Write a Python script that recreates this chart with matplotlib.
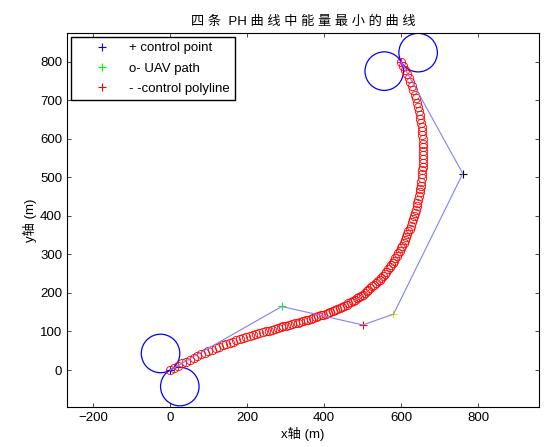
import matplotlib
matplotlib.use('Agg')
import matplotlib.pyplot as plt
from matplotlib.patches import Circle

plt.rcParams['font.family'] = ['Liberation Sans', 'Noto Sans CJK SC']

# control points
ctrl_x = [0, 290, 500, 580, 760, 600]
ctrl_y = [0, 165, 117, 145, 510, 800]
ctrl_c = ['#0000ff', '#00ff00', '#ff0000', '#e8e800', 'k', '#ff00ff']

# turning circles at start and end
circ_x = [-25, 25, 556, 644]
circ_y = [43, -43, 776, 824]
circ_r = 50

# UAV path points (red circles)
path_x = [0, 10, 21, 31, 41, 51, 61, 70, 80, 90, 99, 109, 118, 127, 137, 146, 155, 164, 172, 181,
          190, 198, 207, 215, 224, 232, 240, 248, 256, 264, 272, 279, 287, 294, 302, 309, 317, 324,
          331, 338, 345, 352, 359, 365, 372, 378, 385, 391, 398, 404, 410, 416, 423, 429, 434, 440,
          446, 452, 458, 463, 469, 474, 479, 485, 490, 495, 500, 505, 510, 515, 520, 525, 530, 535,
          539, 544, 548, 553, 557, 561, 565, 570, 574, 578, 582, 585, 589, 593, 597, 600, 603, 607,
          610, 613, 616, 619, 622, 625, 628, 631, 633, 636, 638, 640, 642, 644, 646, 648, 649, 651,
          652, 653, 654, 655, 656, 656, 657, 657, 657, 657, 656, 656, 655, 654, 653, 652, 650, 648,
          646, 644, 641, 638, 635, 632, 628, 624, 620, 616, 611, 606, 600]
path_y = [0, 6, 11, 17, 22, 27, 32, 36, 41, 45, 49, 53, 57, 61, 64, 67, 71, 74, 77, 80, 83, 85, 88,
          91, 93, 96, 98, 100, 102, 105, 107, 109, 111, 113, 115, 117, 119, 121, 123, 125, 127, 129,
          131, 133, 135, 137, 140, 142, 144, 146, 149, 151, 153, 156, 159, 161, 164, 167, 170, 173,
          176, 179, 182, 186, 189, 193, 196, 200, 204, 208, 212, 217, 221, 226, 230, 235, 240, 245,
          250, 255, 261, 267, 272, 278, 284, 290, 297, 303, 310, 316, 323, 330, 337, 345, 352, 360,
          367, 375, 383, 391, 399, 408, 416, 425, 434, 442, 451, 461, 470, 479, 489, 498, 508, 518,
          527, 537, 547, 557, 568, 578, 588, 599, 609, 620, 630, 641, 651, 662, 673, 683, 694, 705,
          715, 726, 737, 747, 758, 769, 779, 790, 800]

labels = ['+ control point', 'o- UAV path', '- -control polyline']

fs = 9.5
fig = plt.figure(figsize=(5.46, 4.47), dpi=100)
ax = fig.add_axes([0.1227, 0.0895, 0.8645, 0.8367])

for x, y, c in zip(ctrl_x, ctrl_y, ctrl_c):
    ax.plot(x, y, '+', color=c, markersize=6, mew=0.8)
ax.plot(path_x, path_y, 'o', mfc='none', mec='r', markersize=6, mew=0.6)
ax.plot(ctrl_x, ctrl_y, '-', color='#8080ff', lw=0.8)
for cx, cy in zip(circ_x, circ_y):
    ax.add_patch(Circle((cx, cy), circ_r, fill=False, ec='b', lw=0.9))

ax.set_xlim(-268, 958)
ax.set_ylim(-96, 875)
ax.set_xticks(range(-200, 801, 200))
ax.set_yticks(range(0, 801, 100))
ax.tick_params(direction='in', top=True, right=True, length=3, width=0.5, labelsize=fs)
for s in ax.spines.values():
    s.set_linewidth(0.8)

ax.set_title('四 条  PH 曲 线 中 能 量 最 小 的 曲 线', fontsize=fs)
ax.set_xlabel('x轴 (m)', fontsize=fs, labelpad=2)
ax.set_ylabel('y轴 (m)', fontsize=fs, labelpad=2)
# legend picks up the first three plotted objects, as in the original
ax.legend(ax.lines[:3], labels, loc='upper left', fontsize=fs, fancybox=False,
          edgecolor='k', borderaxespad=0.3, handlelength=3.9, handletextpad=0.1,
          labelspacing=0.6, framealpha=1)

fig.savefig('out.png', dpi=100)
